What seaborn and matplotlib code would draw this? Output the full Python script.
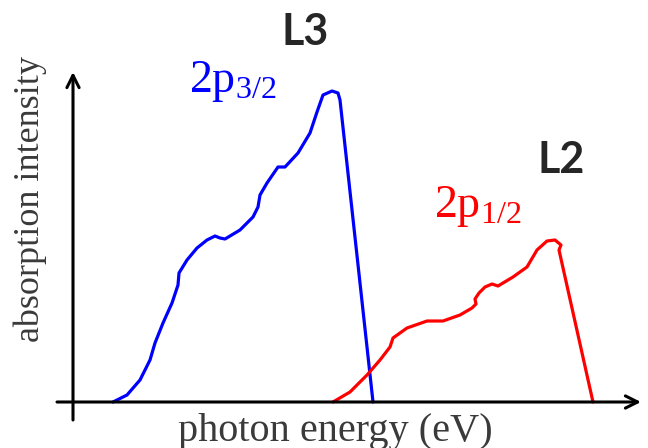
import matplotlib
matplotlib.use('Agg')
import matplotlib.pyplot as plt
import seaborn as sns
import pandas as pd

# L3 edge (2p3/2), energy / intensity in arbitrary units
blue_x = [40, 54, 67, 77, 82, 90, 99, 105, 106, 114, 124, 134, 142, 147, 152, 167, 180, 185,
          187, 194, 205, 212, 225, 237, 244, 250, 259, 265, 267, 300]
blue_y = [0, 7, 22, 42, 59, 79, 99, 117, 129, 142, 154, 162, 166, 164, 163, 172, 185, 195,
          207, 219, 235, 235, 249, 269, 290, 307, 311, 309, 302, 0]
# L2 edge (2p1/2)
red_x = [260, 277, 294, 307, 317, 320, 334, 354, 370, 387, 399, 403, 402, 406, 412, 419, 425,
         440, 454, 464, 474, 482, 488, 486, 520]
red_y = [0, 10, 27, 42, 55, 64, 74, 81, 81, 87, 94, 98, 103, 109, 115, 118, 116,
         125, 135, 152, 161, 162, 157, 152, 0]

edge_labels = ['L3', 'L2']
orbital_labels = [r'$\mathrm{2p_{3/2}}$', r'$\mathrm{2p_{1/2}}$']

sns.set_style('white')
plt.rcParams['mathtext.fontset'] = 'custom'
plt.rcParams['mathtext.rm'] = 'Liberation Serif'

fig = plt.figure(figsize=(6.48, 4.48), dpi=100)
ax = fig.add_axes([0, 0, 1, 1])

l3 = pd.DataFrame({'energy': blue_x, 'intensity': blue_y})
l2 = pd.DataFrame({'energy': red_x, 'intensity': red_y})
sns.lineplot(data=l3, x='energy', y='intensity', sort=False, estimator=None, color='#0000ff', lw=2.3, ax=ax)
sns.lineplot(data=l2, x='energy', y='intensity', sort=False, estimator=None, color='#ff0000', lw=2.3, ax=ax)

ax.set_xlim(-73, 575)
ax.set_ylim(-46, 402)
ax.set_axis_off()

# hand-drawn style axes with open arrow heads
arr = dict(arrowstyle='->', lw=2.2, color='black', mutation_scale=22, shrinkA=0, shrinkB=0)
ax.annotate('', xy=(568, 0), xytext=(-16, 0), arrowprops=arr)
ax.annotate('', xy=(0, 330), xytext=(0, -18), arrowprops=arr)

ax.text(262, -29, 'photon energy (eV)', fontsize=29, family='Liberation Serif',
        color='#3a3a3a', ha='center', va='center')
ax.text(-43, 203, 'absorption intensity', fontsize=26, family='Liberation Serif',
        color='#3a3a3a', ha='center', va='center', rotation=90)

ax.text(232, 370, edge_labels[0], fontsize=31, family='Lato', fontweight='bold', ha='center', va='center')
ax.text(488, 242, edge_labels[1], fontsize=31, family='Lato', fontweight='bold', ha='center', va='center')
ax.text(116, 310, orbital_labels[0], fontsize=33, color='#0000ff', ha='left', va='baseline')
ax.text(361, 185, orbital_labels[1], fontsize=33, color='#ff0000', ha='left', va='baseline')

fig.savefig('out.png', dpi=100)
